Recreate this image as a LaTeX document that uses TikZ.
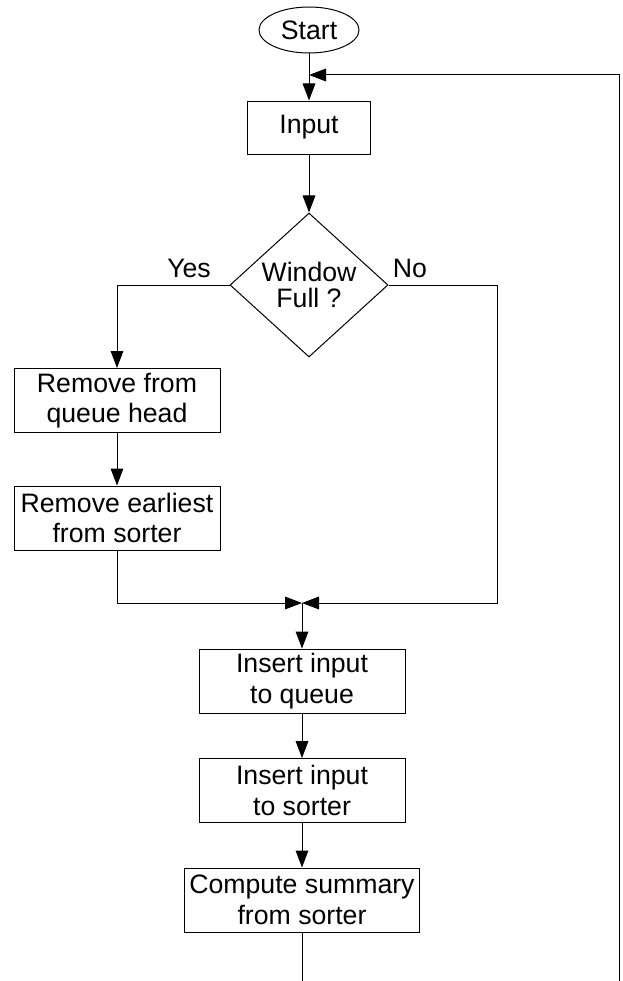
\documentclass[tikz,border=0pt]{standalone}
\usepackage{fontspec}
\setmainfont{Liberation Sans}
\usetikzlibrary{shapes.geometric,arrows.meta}

\begin{document}
\begin{tikzpicture}[x=0.75pt,y=-0.75pt,line width=0.75pt,
  font=\fontsize{20}{23}\selectfont,
  box/.style={draw,rectangle,align=center,inner sep=0pt,minimum width=154.5pt,minimum height=48pt},
  flow/.style={-{Triangle[length=12.75pt,width=9.5pt]}}]
\useasboundingbox (0,0) rectangle (623,981);
\node[draw,ellipse,inner sep=0pt,minimum width=75pt,minimum height=34.5pt] (start) at (309,30) {Start};
\node[box,minimum width=92.25pt,minimum height=39.75pt] (input) at (309,127.5) {Input};
\node[draw,diamond,aspect=1.1,inner sep=0pt,align=center,minimum width=118.5pt,minimum height=108pt,
  font=\fontsize{20}{20}\selectfont] (dec) at (309,285) {Window\\Full ?};
\node[box] (rem1) at (117,400.5) {Remove from\\queue head};
\node[box] (rem2) at (117,518) {Remove earliest\\from sorter};
\node[box] (ins1) at (302,681) {Insert input\\to queue};
\node[box] (ins2) at (302,790.5) {Insert input\\to sorter};
\node[box,minimum width=176.25pt] (comp) at (302,900) {Compute summary\\from sorter};
\node (lblyes) at (189,268) {Yes};
\node (lblno) at (410,268) {No};
\coordinate (join) at (309,75);
\coordinate (merge) at (302,603);
\coordinate (nocorner) at (497,603);
\coordinate (loopout) at (302,981);
\coordinate (loopin) at (619,981);

\draw[flow] (start) -- (input);
\draw[flow] (input) -- (dec);
\draw[flow] (dec.west) -| (rem1.north);
\draw[flow] (rem1) -- (rem2);
\draw[flow] (rem2.south) |- (merge);
\draw[flow] (dec.east) -| (nocorner) -- (merge);
\draw[flow] (merge) -- (ins1);
\draw[flow] (ins1) -- (ins2);
\draw[flow] (ins2) -- (comp);
\draw (comp) -- (loopout);
\draw[flow] (loopin) |- (join);
\end{tikzpicture}
\end{document}
